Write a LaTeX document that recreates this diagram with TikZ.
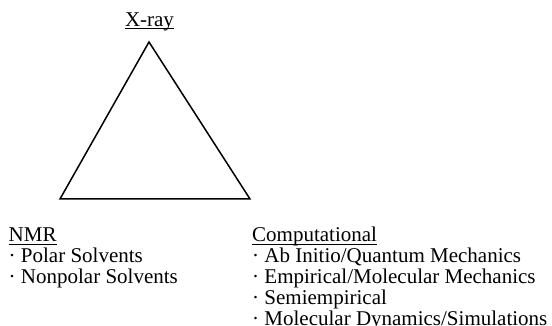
\documentclass[tikz,border=0pt]{standalone}
\usepackage{fontspec}
\setmainfont{Liberation Serif}
\usetikzlibrary{positioning}
% underline at a fixed depth, so that descenders cross it
\newcommand{\hdline}[1]{\setbox0\hbox{#1}\rlap{\rule[-0.14em]{\wd0}{0.05em}}\box0}
\tikzset{
  listtext/.style={font=\fontsize{21}{21}\selectfont, inner sep=0pt,
                   align=left, anchor=base west},
  tri/.style={line width=1.5pt, line join=miter}
}

\begin{document}
\begin{tikzpicture}[x=1pt,y=1pt]
\useasboundingbox (0,0) rectangle (552,326);

\coordinate (apex) at (149,284);
\coordinate (lft)  at (60,127);
\coordinate (rgt)  at (250,127);
\draw[tri] (apex) -- (lft) -- (rgt) -- cycle;

\node[listtext, anchor=base] (xray) at (149.5,299.5) {\hdline{X-ray}};

% multi-line nodes sit on the baseline of their last line
\node[listtext] (nmr) at (8.5,42)
  {\hdline{NMR} \\
   · Polar Solvents \\
   · Nonpolar Solvents};

\node[listtext] (comp) at (252,0)
  {\hdline{Computational} \\
   · Ab Initio/Quantum Mechanics \\
   · Empirical/Molecular Mechanics \\
   · Semiempirical \\
   · Molecular Dynamics/Simulations};

\end{tikzpicture}
\end{document}
